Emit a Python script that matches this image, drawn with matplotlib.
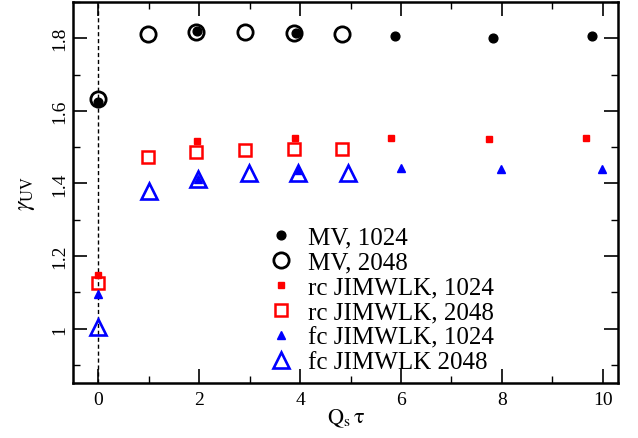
import matplotlib
matplotlib.use("Agg")
import matplotlib.pyplot as plt
from matplotlib.ticker import MultipleLocator

plt.rcParams['font.family'] = ['Liberation Serif', 'DejaVu Serif']
plt.rcParams['mathtext.fontset'] = 'stix'

# MV, 1024
mv1024_x = [0.0, 1.96, 3.92, 5.88, 7.82, 9.79]
mv1024_y = [1.625, 1.82, 1.814, 1.806, 1.801, 1.805]
# MV, 2048
mv2048_x = [0.0, 0.98, 1.94, 2.9, 3.87, 4.84]
mv2048_y = [1.632, 1.812, 1.817, 1.816, 1.814, 1.812]
# rc JIMWLK, 1024
rc1024_x = [0.0, 1.96, 3.9, 5.81, 7.75, 9.67]
rc1024_y = [1.147, 1.518, 1.526, 1.524, 1.522, 1.526]
# rc JIMWLK, 2048
rc2048_x = [0.0, 0.98, 1.94, 2.9, 3.87, 4.84]
rc2048_y = [1.125, 1.474, 1.487, 1.492, 1.494, 1.494]
# fc JIMWLK, 1024
fc1024_x = [0.0, 1.98, 3.96, 5.99, 7.98, 9.99]
fc1024_y = [1.094, 1.411, 1.437, 1.443, 1.44, 1.44]
# fc JIMWLK 2048
fc2048_x = [0.0, 1.0, 1.98, 2.98, 3.96, 4.94]
fc2048_y = [1.003, 1.379, 1.411, 1.428, 1.43, 1.43]

labels = ["MV, 1024", "MV, 2048", "rc JIMWLK, 1024", "rc JIMWLK, 2048",
          "fc JIMWLK, 1024", "fc JIMWLK 2048"]

fig = plt.figure(figsize=(6.38, 4.39), dpi=100)
ax = fig.add_axes([73/638, 1-384/439, (618-73)/638, (384-3)/439])

ax.axvline(0, color='black', ls=(0, (3, 2)), lw=1.0, zorder=1)

ax.plot(mv1024_x, mv1024_y, 'o', ls='none', color='black', ms=6.3, label=labels[0], zorder=3)
ax.plot(mv2048_x, mv2048_y, 'o', ls='none', mfc='none', mec='black', ms=11, mew=2.0, label=labels[1], zorder=2)
ax.plot(rc1024_x, rc1024_y, 's', ls='none', color='red', ms=4.0, label=labels[2], zorder=3)
ax.plot(rc2048_x, rc2048_y, 's', ls='none', mfc='none', mec='red', ms=8.0, mew=1.8, label=labels[3], zorder=2)
ax.plot(fc1024_x, fc1024_y, '^', ls='none', color='blue', ms=5.8, label=labels[4], zorder=3)
ax.plot(fc2048_x, fc2048_y, '^', ls='none', mfc='none', mec='blue', ms=11, mew=1.9, label=labels[5], zorder=2)

ax.set_xlim(-0.5, 10.3)
ax.set_ylim(0.85, 1.9)
ax.xaxis.set_major_locator(MultipleLocator(2))
ax.xaxis.set_minor_locator(MultipleLocator(1))
ax.yaxis.set_major_locator(MultipleLocator(0.2))
ax.yaxis.set_minor_locator(MultipleLocator(0.1))
ax.set_yticks([1.0, 1.2, 1.4, 1.6, 1.8])
ax.set_yticklabels(['1', '1.2', '1.4', '1.6', '1.8'])
ax.set_xticks([0, 2, 4, 6, 8, 10])
ax.set_xticklabels(['0', '2', '4', '6', '8', '10'])

ax.tick_params(which='both', direction='in', top=True, right=True, labelsize=14)
ax.tick_params(which='major', length=10, width=1.2)
ax.tick_params(which='minor', length=5, width=1.0)
ax.tick_params(axis='x', pad=6)
for lab in ax.get_yticklabels():
    lab.set_rotation(90)
    lab.set_va('center')
for sp in ax.spines.values():
    sp.set_linewidth(1.8)

ax.set_xlabel(r'$\mathrm{Q_s\,\tau}$', fontsize=16, labelpad=-1)
ax.set_ylabel(r'$\gamma_{\mathrm{UV}}$', fontsize=17, labelpad=10)

ax.legend(loc='upper left', bbox_to_anchor=(0.325, 0.445), frameon=False,
          fontsize=18, labelspacing=0.1, handletextpad=0.3, handlelength=1.5,
          borderpad=0, numpoints=1)

fig.savefig('out.png', dpi=100)
